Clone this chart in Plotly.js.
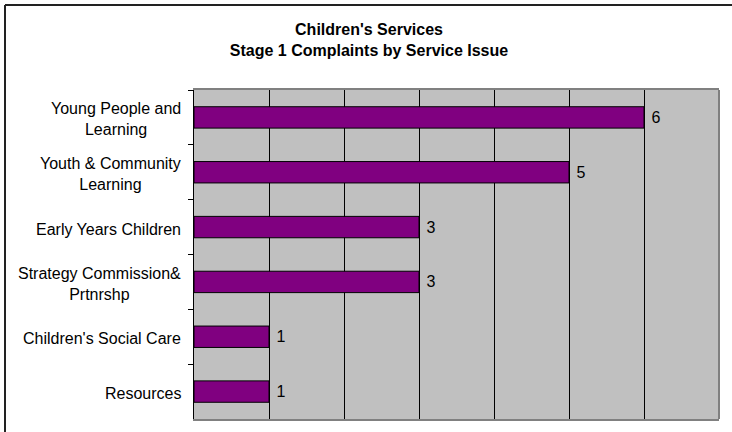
<!DOCTYPE html>
<html>
<head>
<meta charset="utf-8">
<script src="https://cdn.plot.ly/plotly-3.0.1.min.js"></script>
<style>html,body{margin:0;padding:0;background:#fff;}#chart{width:732px;height:432px;}</style>
</head>
<body>
<div id="chart"></div>
<script>
const categories = [
  "Young People and<br>Learning",
  "Youth & Community<br>Learning",
  "Early Years Children",
  "Strategy Commission&<br>Prtnrshp",
  "Children's Social Care",
  "Resources"
];
const complaints = [6, 5, 3, 3, 1, 1];
const chartTitle = "Children's Services<br>Stage 1 Complaints by Service Issue";

const FONT = "Arial, 'Liberation Sans', sans-serif";

const trace = {
  type: 'bar',
  orientation: 'h',
  y: categories,
  x: complaints,
  width: 0.39,
  marker: {color: '#800080', line: {color: '#000000', width: 1}},
  texttemplate: ' %{x}',
  textposition: 'outside',
  constraintext: 'none',
  cliponaxis: false,
  textfont: {family: FONT, size: 16, color: '#000000'},
  hoverinfo: 'none'
};

const annotations = categories.map(c => ({
  xref: 'paper', yref: 'y', x: 0, y: c,
  xanchor: 'right', yanchor: 'middle', xshift: -11, yshift: -2,
  text: c, showarrow: false, align: 'center',
  font: {family: FONT, size: 16, color: '#000000'}
}));

const layout = {
  width: 732, height: 432,
  margin: {l: 194, r: 13, t: 90, b: 13, pad: 0},
  paper_bgcolor: '#ffffff',
  plot_bgcolor: '#C0C0C0',
  showlegend: false,
  title: {
    text: chartTitle,
    font: {family: FONT, size: 16, color: '#000000', weight: 'bold'},
    x: 369/732, xref: 'container', xanchor: 'center',
    y: 1 - 35/432, yref: 'container', yanchor: 'middle'
  },
  xaxis: {
    range: [0, 7], dtick: 1, tick0: 0,
    showgrid: true, gridcolor: '#000000', gridwidth: 1,
    zeroline: false, showticklabels: false, ticks: '',
    showline: true, linecolor: '#808080', linewidth: 2, mirror: true,
    fixedrange: true
  },
  yaxis: {
    type: 'category', autorange: 'reversed',
    showticklabels: false, tickson: 'boundaries',
    ticks: 'outside', ticklen: 5, tickcolor: '#000000', tickwidth: 1,
    showgrid: false, zeroline: false,
    showline: true, linecolor: '#000000', linewidth: 1,
    fixedrange: true
  },
  annotations: annotations,
  shapes: [
    {type: 'line', xref: 'paper', yref: 'paper', x0: 1, x1: 1, y0: 0, y1: 1,
     line: {color: '#808080', width: 2}, layer: 'above'},
    {type: 'line', xref: 'paper', yref: 'paper',
     x0: (5 - 194) / 525, x1: (5 - 194) / 525, y0: (419 - 5) / 329, y1: -0.2,
     line: {color: '#222222', width: 2}},
    {type: 'line', xref: 'paper', yref: 'paper',
     x0: (5 - 194) / 525, x1: 1.3, y0: (419 - 5) / 329, y1: (419 - 5) / 329,
     line: {color: '#222222', width: 2}}
  ]
};

Plotly.newPlot('chart', [trace], layout, {displayModeBar: false, staticPlot: true});
</script>
</body>
</html>
